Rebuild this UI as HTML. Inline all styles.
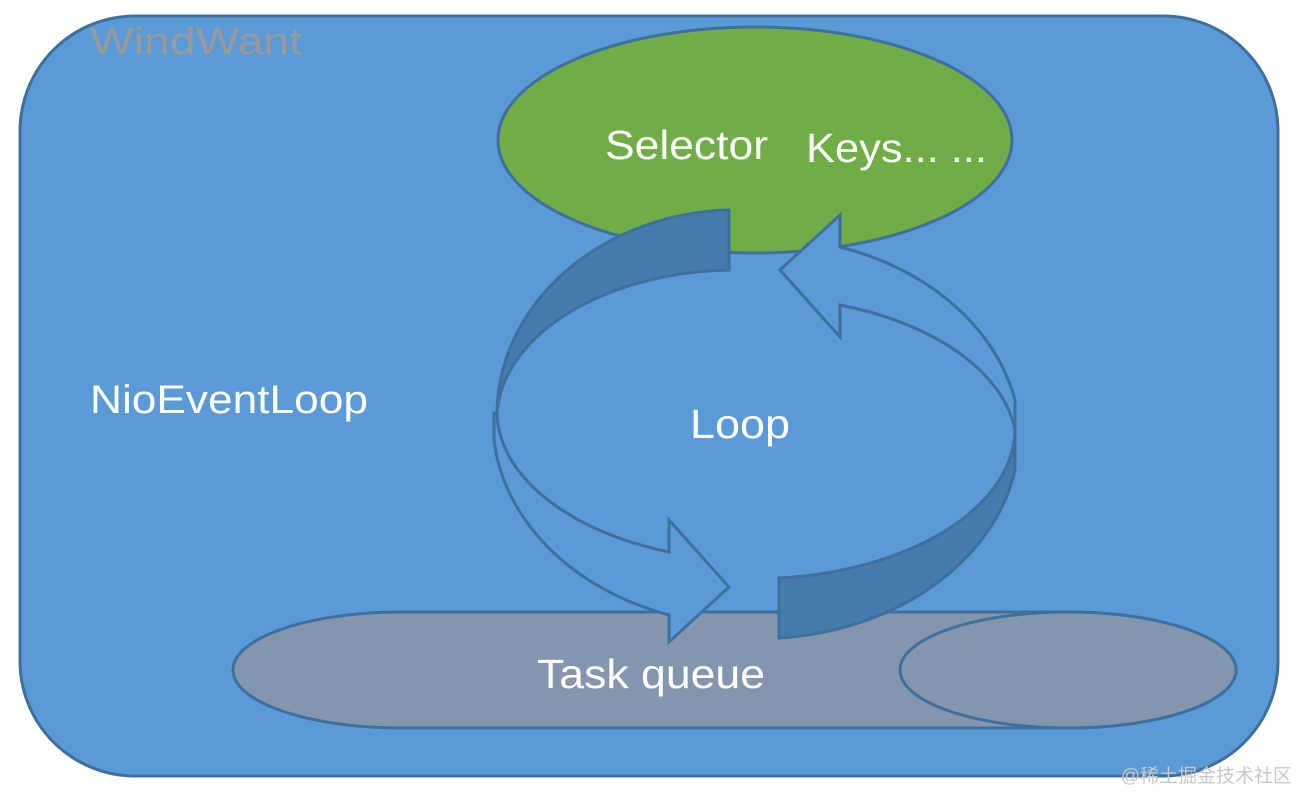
<!DOCTYPE html>
<html><head><meta charset="utf-8"><style>
html,body{margin:0;padding:0;background:#fff;}
svg{display:block;}
text{font-family:"Liberation Sans","Noto Sans CJK SC",sans-serif;}
</style></head><body>
<svg width="1298" height="792" viewBox="0 0 1298 792" xmlns="http://www.w3.org/2000/svg">
<rect x="20" y="16" width="1258" height="760" rx="115" ry="115" fill="#5a9ad6" stroke="#3f6f9d" stroke-width="3"/>
<text x="90" y="54" font-size="38" fill="#9a9a9a" textLength="212" lengthAdjust="spacingAndGlyphs">WindWant</text>
<ellipse cx="755" cy="140" rx="257" ry="113" fill="#70ad47" stroke="#3f6f9d" stroke-width="3"/>
<text x="605" y="159" font-size="41" fill="#fff" textLength="163" lengthAdjust="spacingAndGlyphs">Selector</text>
<text x="806" y="162" font-size="41" fill="#fff" textLength="181" lengthAdjust="spacingAndGlyphs">Keys... ...</text>
<text x="90" y="413" font-size="40" fill="#fff" textLength="278" lengthAdjust="spacingAndGlyphs">NioEventLoop</text>
<path d="M401,612 L1068,612 A168,58 0 0 1 1068,728 L401,728 A168,58 0 0 1 401,612 Z" fill="#8496ae" stroke="#3f6f9d" stroke-width="3"/>
<ellipse cx="1068" cy="670" rx="168" ry="58" fill="#8496ae" stroke="#3f6f9d" stroke-width="3"/>
<text x="537" y="688" font-size="41" fill="#fff" textLength="228" lengthAdjust="spacingAndGlyphs">Task queue</text>
<g stroke="#3f6f9d" stroke-width="3" stroke-linejoin="miter">
<path d="M729,210 L729,270 A240,150 0 0 0 497,413 A240,205 0 0 1 729,210 Z" fill="#467cac"/>
<path d="M497,413 A260,150 0 0 0 669,552 L669,520 L729,587 L669,642 L669,615 A260,205 0 0 1 494,440 L494,413 Z" fill="#5a9ad6"/>
<path d="M779,578 L779,638 A260,205 0 0 0 1015,470 L1015,430 A260,150 0 0 1 779,578 Z" fill="#467cac"/>
<path d="M1015,430 A260,150 0 0 0 840,305 L840,337 L780,270 L840,215 L840,247 A260,205 0 0 1 1015,400 Z" fill="#5a9ad6"/>
</g>
<text x="690" y="438" font-size="41" fill="#fff" textLength="100" lengthAdjust="spacingAndGlyphs">Loop</text>
<text x="1292" y="782" font-size="19" fill="#c8c8c8" text-anchor="end">@稀土掘金技术社区</text>
</svg>
</body></html>
